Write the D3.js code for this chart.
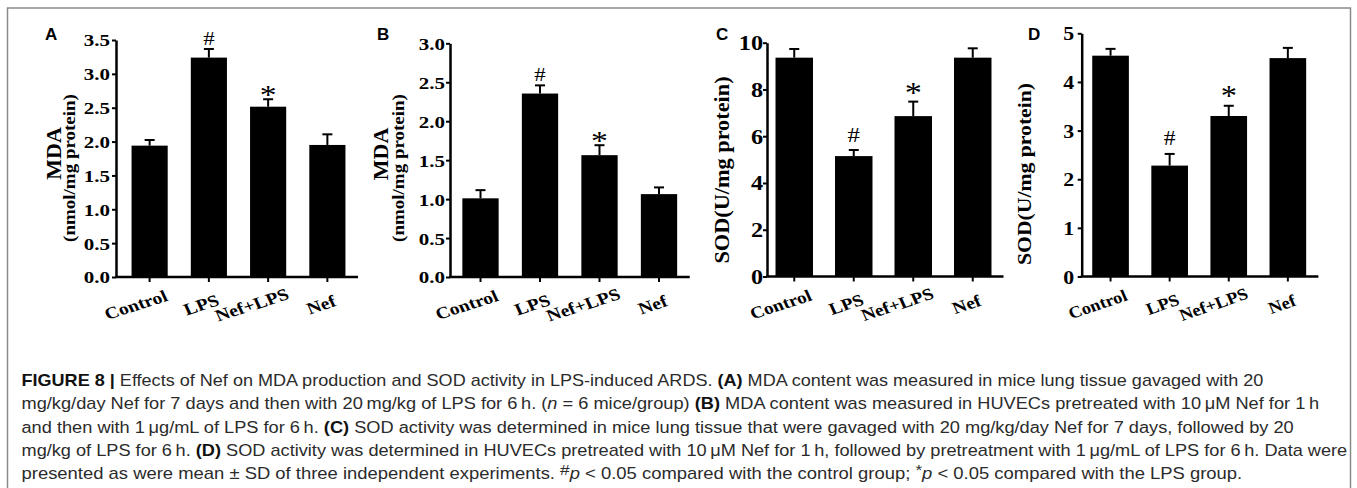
<!DOCTYPE html>
<html><head><meta charset="utf-8">
<script src="https://cdn.jsdelivr.net/npm/d3@7"></script>
<style>body{margin:0;background:#fff} svg{display:block}</style>
</head><body>
<svg id="fig" width="1357" height="488"></svg>
<script>
// ---------------- data ----------------
const categories = ["Control", "LPS", "Nef+LPS", "Nef"];
const marks = ["", "#", "*", ""];
const mdaLung = [1.94, 3.24, 2.515, 1.95];
const mdaLungSD = [0.083, 0.127, 0.11, 0.157];
const mdaHuvec = [1.01, 2.355, 1.564, 1.064];
const mdaHuvecSD = [0.105, 0.105, 0.128, 0.086];
const sodLung = [9.36, 5.15, 6.86, 9.36];
const sodLungSD = [0.37, 0.26, 0.62, 0.40];
const sodHuvec = [4.54, 2.28, 3.30, 4.49];
const sodHuvecSD = [0.14, 0.24, 0.21, 0.21];
const mdaLungTicks = [0, 0.5, 1, 1.5, 2, 2.5, 3, 3.5];
const mdaHuvecTicks = [0, 0.5, 1, 1.5, 2, 2.5, 3];
const sodLungTicks = [0, 2, 4, 6, 8, 10];
const sodHuvecTicks = [0, 1, 2, 3, 4, 5];
const panelLetters = ["A", "B", "C", "D"];
const yLabelsA = ["MDA", "(nmol/mg protein)"];
const yLabelsB = ["MDA", "(nmol/mg protein)"];
const yLabelsC = ["SOD(U/mg protein)"];
const yLabelsD = ["SOD(U/mg protein)"];

// ---------------- layout ----------------
const panels = [
  {letter: panelLetters[0], values: mdaLung, sd: mdaLungSD, ticks: mdaLungTicks, fmt: ".1f", labels: yLabelsA,
   letterX: 45, axisX: 116, band: [120, 357], y0: 277, yTop: 40, sx: 1.2, tickFs: 17.5, tickOff: 6, pad: 0.39,
   gap: 4, markFs: 19, starFs: 28, xFs: 16.5,
   ylab: [{x: 61, y: 153.5, fs: 22, sx: 1}, {x: 74.7, y: 168, fs: 19, sx: 0.87}]},
  {letter: panelLetters[1], values: mdaHuvec, sd: mdaHuvecSD, ticks: mdaHuvecTicks, fmt: ".1f", labels: yLabelsB,
   letterX: 377, axisX: 450, band: [450.75, 688.75], y0: 277, yTop: 43.3, sx: 1.2, tickFs: 17.5, tickOff: 5, pad: 0.39,
   gap: 4, markFs: 19, starFs: 28, xFs: 16.5,
   ylab: [{x: 387.5, y: 154, fs: 22, sx: 1}, {x: 404, y: 168, fs: 19, sx: 0.87}]},
  {letter: panelLetters[2], values: sodLung, sd: sodLungSD, ticks: sodLungTicks, fmt: "d", labels: yLabelsC,
   letterX: 716, axisX: 767, band: [764.5, 1002.5], y0: 276.5, yTop: 42.7, sx: 1.18, tickFs: 20.5, tickOff: 4, pad: 0.37,
   gap: 8, markFs: 21, starFs: 29, xFs: 16.5,
   ylab: [{x: 729, y: 170, fs: 22.3, sx: 0.9}]},
  {letter: panelLetters[3], values: sodHuvec, sd: sodHuvecSD, ticks: sodHuvecTicks, fmt: "d", labels: yLabelsD,
   letterX: 1028, axisX: 1081.7, band: [1081, 1317.4], y0: 276.5, yTop: 33.3, sx: 1.12, tickFs: 19.5, tickOff: 7.5, pad: 0.38,
   gap: 9, markFs: 21, starFs: 29, xFs: 16.5,
   ylab: [{x: 1031, y: 174, fs: 21.7, sx: 0.9}]}
];

const svg = d3.select("#fig");
const SERIF = "'Liberation Serif','Times New Roman',Times,serif";

// figure frame
svg.append("rect").attr("x", 7.5).attr("y", 8).attr("width", 1343).attr("height", 600)
  .attr("fill", "#fff").attr("stroke", "#8a8a8a").attr("stroke-width", 1.5);

panels.forEach(p => {
  const g = svg.append("g");
  const maxV = p.ticks[p.ticks.length - 1];
  const y = d3.scaleLinear().domain([0, maxV]).range([p.y0, p.yTop]);
  const x = d3.scaleBand().domain(categories).range(p.band).paddingInner(p.pad).paddingOuter(p.pad / 2);

  // bars
  g.selectAll("rect.bar").data(categories).join("rect").attr("class", "bar")
    .attr("x", c => x(c)).attr("width", x.bandwidth())
    .attr("y", (c, i) => y(p.values[i])).attr("height", (c, i) => p.y0 - y(p.values[i]))
    .attr("fill", "#000");

  // error bars (upper)
  categories.forEach((c, i) => {
    const cx = x(c) + x.bandwidth() / 2;
    const top = y(p.values[i] + p.sd[i]);
    g.append("line").attr("x1", cx).attr("x2", cx).attr("y1", y(p.values[i])).attr("y2", top)
      .attr("stroke", "#000").attr("stroke-width", 2);
    g.append("line").attr("x1", cx - 5).attr("x2", cx + 5).attr("y1", top).attr("y2", top)
      .attr("stroke", "#000").attr("stroke-width", 2);
    const m = marks[i];
    if (m === "#") {
      g.append("text").text(m).attr("text-anchor", "middle")
        .attr("font-family", SERIF).attr("font-size", p.markFs)
        .attr("transform", `translate(${cx},${top - p.gap}) scale(${p.sx},1)`);
    } else if (m === "*") {
      g.append("text").text(m).attr("text-anchor", "middle")
        .attr("font-family", SERIF).attr("font-size", p.starFs)
        .attr("transform", `translate(${cx},${top - p.gap + 0.3 * p.starFs}) scale(${p.sx},1)`);
    }
  });

  // y axis
  const fmt = d3.format(p.fmt);
  const ya = g.append("g").attr("transform", `translate(${p.axisX},0)`)
    .call(d3.axisLeft(y).tickValues(p.ticks).tickSize(4).tickSizeOuter(0).tickFormat(d => fmt(d)));
  ya.select(".domain").attr("stroke-width", 2.5);
  ya.selectAll(".tick line").attr("stroke-width", 2);
  ya.selectAll(".tick text").attr("x", 0).attr("dy", "0.34em")
    .attr("transform", `translate(${-p.tickOff},0) scale(${p.sx},1)`)
    .attr("font-family", SERIF).attr("font-weight", "bold").attr("font-size", p.tickFs).attr("fill", "#000");

  // x axis
  const xa = g.append("g").attr("transform", `translate(0,${p.y0})`)
    .call(d3.axisBottom(x).tickSize(5).tickSizeOuter(0));
  xa.select(".domain").remove();
  xa.append("line").attr("x1", p.axisX - 1).attr("x2", p.band[1] + 1).attr("y1", 0).attr("y2", 0)
    .attr("stroke", "#000").attr("stroke-width", 2.5);
  xa.selectAll(".tick line").attr("stroke-width", 2);
  xa.selectAll(".tick text")
    .attr("font-family", SERIF).attr("font-weight", "bold").attr("font-size", p.xFs).attr("fill", "#000")
    .attr("x", 0).attr("y", 0).attr("dy", "0.33em").attr("text-anchor", "middle")
    .attr("transform", function () {
      const L = this.getComputedTextLength();
      return `translate(${-0.21 * L * p.sx},28) scale(${p.sx},1) rotate(-21)`;
    });

  // y labels
  p.labels.forEach((t, k) => {
    const o = p.ylab[k];
    g.append("text").text(t).attr("text-anchor", "middle")
      .attr("font-family", SERIF).attr("font-weight", "bold").attr("font-size", o.fs)
      .attr("transform", `translate(${o.x},${o.y}) scale(${o.sx},1) rotate(-90)`);
  });

  // panel letter
  g.append("text").text(p.letter).attr("x", p.letterX).attr("y", 40)
    .attr("font-family", "'Liberation Sans',Arial,sans-serif").attr("font-weight", "bold").attr("font-size", 17);
});

// ---------------- caption ----------------
const capLines = [
  [["FIGURE 8 |", "b"], [" Effects of Nef on MDA production and SOD activity in LPS-induced ARDS. "], ["(A)", "b"], [" MDA content was measured in mice lung tissue gavaged with 20"]],
  [["mg/kg/day Nef for 7 days and then with 20\u2009mg/kg of LPS for 6\u2009h. ("], ["n", "i"], [" = 6 mice/group) "], ["(B)", "b"], [" MDA content was measured in HUVECs pretreated with 10\u2009\u03bcM Nef for 1\u2009h"]],
  [["and then with 1\u2009\u03bcg/mL of LPS for 6\u2009h. "], ["(C)", "b"], [" SOD activity was determined in mice lung tissue that were gavaged with 20 mg/kg/day Nef for 7 days, followed by 20"]],
  [["mg/kg of LPS for 6\u2009h. "], ["(D)", "b"], [" SOD activity was determined in HUVECs pretreated with 10\u2009\u03bcM Nef for 1\u2009h, followed by pretreatment with 1\u2009\u03bcg/mL of LPS for 6\u2009h. Data were"]],
  [["presented as were mean \u00b1 SD of three independent experiments. "], ["#", "sup"], ["p", "i"], [" < 0.05 compared with the control group; "], ["*", "sup"], ["p", "i"], [" < 0.05 compared with the LPS group."]]
];
const capWidths = [1243.5, 1298.5, 1273.5, 1327, 1221.5];
const capX = 21.5, capY0 = 386, capDY = 23.3;
capLines.forEach((segs, li) => {
  const t = svg.append("text")
    .attr("font-family", "'Liberation Sans Narrow','Liberation Sans',Arial,sans-serif")
    .attr("font-size", 16).attr("fill", "#2b2b2b");
  let raised = false;
  segs.forEach(([s, st]) => {
    const ts = t.append("tspan").text(s);
    if (st === "b") ts.attr("font-weight", "bold").attr("fill", "#111");
    if (st === "i") ts.attr("font-style", "italic");
    if (st === "sup") { ts.attr("dy", -4).attr("font-size", 15); raised = true; }
    else if (raised) { ts.attr("dy", 4); raised = false; }
  });
  const w = t.node().getComputedTextLength();
  t.attr("transform", `translate(${capX},${capY0 + li * capDY}) scale(${capWidths[li] / w},1)`);
});
</script>
</body></html>
